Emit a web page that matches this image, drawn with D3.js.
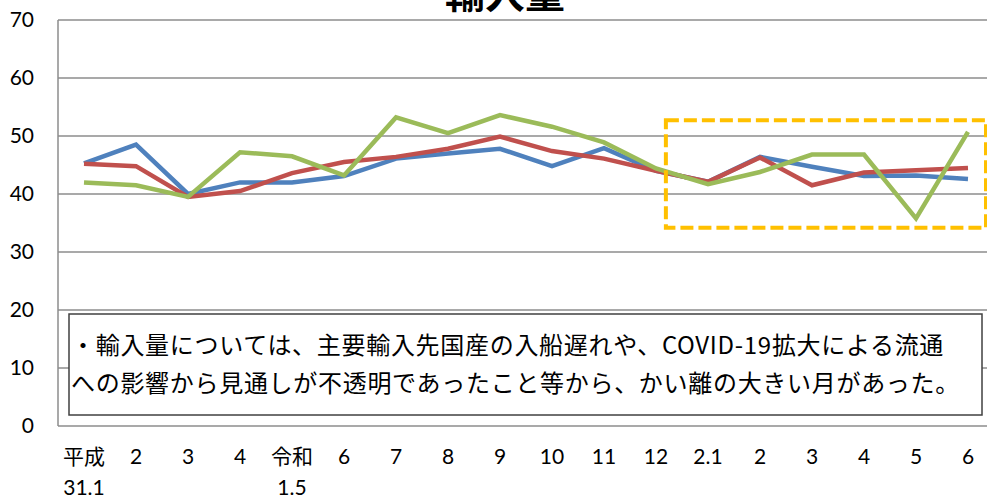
<!DOCTYPE html>
<html>
<head>
<meta charset="utf-8">
<script src="https://cdn.jsdelivr.net/npm/d3@7/dist/d3.min.js"></script>
<style>
    html, body { margin: 0; padding: 0; background: #fff; }
    svg { display: block; }
    .grid line { stroke: #8c8c8c; stroke-width: 1.5; }
    .tick-label { font-family: Lato, 'Noto Sans CJK JP', sans-serif; font-size: 21px; fill: #000; }
    .note { font-family: 'Noto Sans CJK JP', sans-serif; font-size: 24px; letter-spacing: 0.7px; fill: #000; }
</style>
</head>
<body>
<svg id="chart" width="987" height="497"></svg>
<script>
(function() {
    'use strict';

    /******************************************************************
        data
     ******************************************************************/
    var months = ['平成\n31.1', '2', '3', '4', '令和\n1.5', '6', '7', '8', '9',
                  '10', '11', '12', '2.1', '2', '3', '4', '5', '6'];

    var blue  = [45.3, 48.5, 40.0, 42.0, 42.0, 43.1, 46.1, 47.0, 47.8,
                 44.8, 47.9, 44.0, 42.1, 46.4, 44.7, 43.1, 43.2, 42.6];
    var red   = [45.2, 44.8, 39.5, 40.5, 43.6, 45.5, 46.4, 47.8, 49.9,
                 47.4, 46.1, 44.0, 42.1, 46.3, 41.5, 43.7, 44.1, 44.5];
    var green = [42.0, 41.5, 39.5, 47.2, 46.5, 43.2, 53.2, 50.5, 53.6,
                 51.6, 48.9, 44.4, 41.7, 43.8, 46.8, 46.8, 35.8, 50.7];

    var yTicks = [0, 10, 20, 30, 40, 50, 60, 70];

    var series = [
        { name: 'blue',  values: blue,  color: '#4f81bd' },
        { name: 'red',   values: red,   color: '#c0504d' },
        { name: 'green', values: green, color: '#9bbb59' }
    ];

    var title = '輸入量';
    var note = [
        '・輸入量については、主要輸入先国産の入船遅れや、COVID-19拡大による流通',
        'への影響から見通しが不透明であったこと等から、かい離の大きい月があった。'
    ];

    /******************************************************************
        scales
     ******************************************************************/
    var left = 58, right = 994, top = 20, bottom = 426;

    var idx = months.map(function(d, i) { return i; });

    var x = d3.scaleBand()
        .domain(idx)
        .range([left, right]);

    var y = d3.scaleLinear()
        .domain([0, 70])
        .range([bottom, top]);

    var cx = function(i) { return x(i) + x.bandwidth() / 2; };

    var svg = d3.select('#chart');

    /******************************************************************
        grid + frame
     ******************************************************************/
    svg.append('g')
        .attr('class', 'grid')
        .selectAll('line')
        .data(yTicks)
        .enter().append('line')
            .attr('x1', left)
            .attr('x2', right)
            .attr('y1', function(d) { return y(d); })
            .attr('y2', function(d) { return y(d); });

    svg.append('line')
        .attr('x1', left).attr('x2', left)
        .attr('y1', top).attr('y2', bottom)
        .attr('stroke', '#8c8c8c')
        .attr('stroke-width', 1.5);

    /******************************************************************
        axes labels
     ******************************************************************/
    svg.append('g')
        .selectAll('text')
        .data(yTicks)
        .enter().append('text')
            .attr('class', 'tick-label')
            .attr('x', 34)
            .attr('y', function(d) { return y(d); })
            .attr('dy', '0.35em')
            .attr('text-anchor', 'end')
            .text(function(d) { return d; });

    var xl = svg.append('g')
        .selectAll('text')
        .data(idx)
        .enter().append('text')
            .attr('class', 'tick-label')
            .attr('text-anchor', 'middle')
            .attr('transform', function(i) { return 'translate(' + [cx(i), 464] + ')'; });

    xl.selectAll('tspan')
        .data(function(i) { return months[i].split('\n'); })
        .enter().append('tspan')
            .attr('x', 0)
            .attr('y', function(d, j) { return j * 31; })
            .text(function(d) { return d; });

    /******************************************************************
        lines
     ******************************************************************/
    var line = d3.line()
        .x(function(d, i) { return cx(i); })
        .y(function(d) { return y(d); });

    svg.append('g')
        .selectAll('path')
        .data(series)
        .enter().append('path')
            .attr('d', function(s) { return line(s.values); })
            .attr('fill', 'none')
            .attr('stroke', function(s) { return s.color; })
            .attr('stroke-width', 4.5)
            .attr('stroke-linejoin', 'miter');

    /******************************************************************
        highlight box (2.1 - 6)
     ******************************************************************/
    var hx = cx(11) + x.step() * 0.19;

    svg.append('rect')
        .attr('x', hx)
        .attr('y', y(52.7))
        .attr('width', 986 - hx)
        .attr('height', y(34.2) - y(52.7))
        .attr('fill', 'none')
        .attr('stroke', '#ffc000')
        .attr('stroke-width', 4)
        .attr('stroke-dasharray', '13,5');

    /******************************************************************
        note
     ******************************************************************/
    svg.append('rect')
        .attr('x', 69)
        .attr('y', 314)
        .attr('width', 913)
        .attr('height', 101)
        .attr('fill', '#fff')
        .attr('stroke', '#404040')
        .attr('stroke-width', 1.5);

    svg.append('g')
        .selectAll('text')
        .data(note)
        .enter().append('text')
            .attr('class', 'note')
            .attr('x', 71)
            .attr('y', function(d, i) { return 354 + i * 38; })
            .text(function(d) { return d; });

    /******************************************************************
        title
     ******************************************************************/
    svg.append('text')
        .attr('x', 505)
        .attr('y', 8)
        .attr('text-anchor', 'middle')
        .attr('font-family', "'Noto Sans CJK JP', sans-serif")
        .attr('font-weight', 'bold')
        .attr('font-size', 40)
        .text(title);
})();
</script>
</body>
</html>
